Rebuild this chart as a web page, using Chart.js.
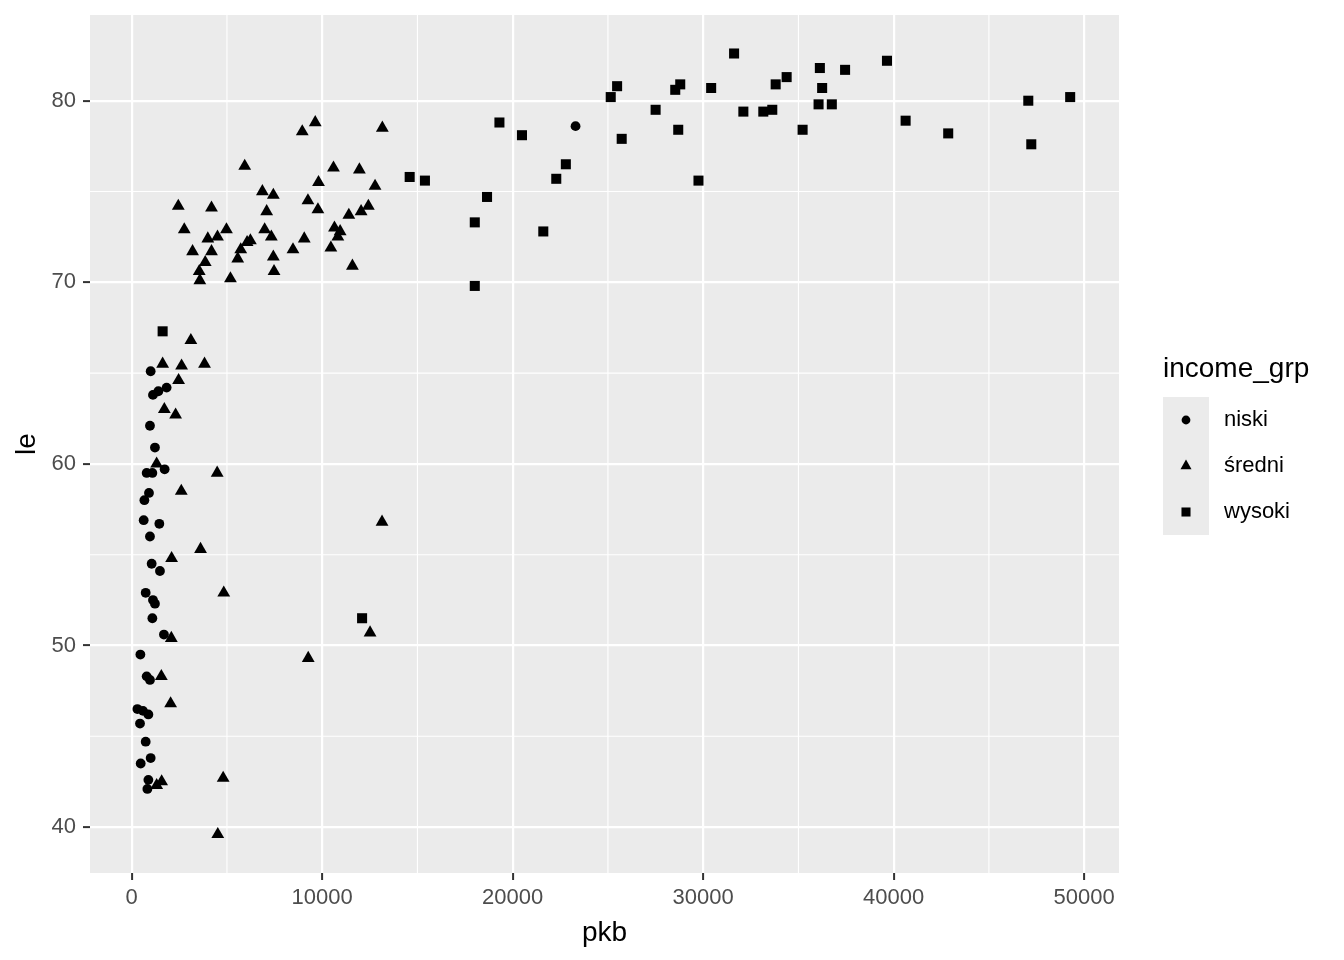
<!DOCTYPE html>
<html>
<head>
<meta charset="utf-8">
<script src="https://cdn.jsdelivr.net/npm/chart.js@4"></script>
<style>
  body { margin: 0; background: #fff; }
  #wrap { width: 1344px; height: 960px; }
</style>
</head>
<body>
<div id="wrap"><canvas id="myChart" width="1344" height="960"></canvas></div>
<script>
// values
const groups = ['niski', 'średni', 'wysoki']

const niskiPkb = [995, 1115, 1398, 1832, 958, 1220, 1728, 785, 1084, 906, 665, 628, 1450, 958, 1047, 1482, 733, 1115, 1220, 1084, 1691, 455, 785, 958, 298, 592, 874, 435, 733, 995, 471, 874, 822, 23300]
const niskiLe = [65.1, 63.8, 64.0, 64.2, 62.1, 60.9, 59.7, 59.5, 59.5, 58.4, 58.0, 56.9, 56.7, 56.0, 54.5, 54.1, 52.9, 52.5, 52.3, 51.5, 50.6, 49.5, 48.3, 48.1, 46.5, 46.4, 46.2, 45.7, 44.7, 43.8, 43.5, 42.6, 42.1, 78.6]

const sredniPkb = [3105, 1623, 2618, 3822, 2461, 1712, 2304, 1309, 4487, 2602, 3613, 2094, 4832, 2079, 1555, 2042, 4801, 1571, 1309, 4518, 13141, 12513, 9267,
  9634, 8953, 13157, 5932, 10592, 11953, 9806, 12775, 6859, 7435, 2445, 4188, 9251, 9775, 7084, 12424, 12042, 11398, 2759, 4974, 4503, 3995, 6979, 7330, 6230, 6058, 10644, 10942, 10822, 9058, 4188, 3194, 5723, 8466, 10455, 5565, 7435, 3859, 3545, 7471, 11586, 3576, 5183]
const sredniLe = [66.8, 65.5, 65.4, 65.5, 64.6, 63.0, 62.7, 60.0, 59.5, 58.5, 55.3, 54.8, 52.9, 50.4, 48.3, 46.8, 42.7, 42.5, 42.3, 39.6, 56.8, 50.7, 49.3,
  78.8, 78.3, 78.5, 76.4, 76.3, 76.2, 75.5, 75.3, 75.0, 74.8, 74.2, 74.1, 74.5, 74.0, 73.9, 74.2, 73.9, 73.7, 72.9, 72.9, 72.5, 72.4, 72.9, 72.5, 72.3, 72.2, 73.0, 72.8, 72.5, 72.4, 71.7, 71.7, 71.8, 71.8, 71.9, 71.3, 71.4, 71.1, 70.6, 70.6, 70.9, 70.1, 70.2]

const wysokiPkb = [31623, 25482, 25147, 28796, 28534, 30419, 27503, 32110, 19304, 20487, 25723, 28691, 22791, 22288, 29754, 14592, 15393, 18654, 18010, 21607, 18010, 1623, 12094, 39649, 36126, 37450, 34382, 33806, 36246, 36058, 36754, 33157, 33628, 35220, 40628, 42864, 47068, 49267, 47225]
const wysokiLe = [82.6, 80.8, 80.2, 80.9, 80.6, 80.7, 79.5, 79.4, 78.8, 78.1, 77.9, 78.4, 76.5, 75.7, 75.6, 75.8, 75.6, 74.7, 73.3, 72.8, 69.8, 67.3, 51.5, 82.2, 81.8, 81.7, 81.3, 80.9, 80.7, 79.8, 79.8, 79.4, 79.5, 78.4, 78.9, 78.2, 80.0, 80.2, 77.6]

const xTicks = [0, 10000, 20000, 30000, 40000, 50000]
const yTicks = [40, 50, 60, 70, 80]

const FONT = "'Liberation Sans', Arial, sans-serif"
const PANEL = '#EBEBEB'

function toPoints(xs, ys) {
    return xs.map((x, i) => ({ x: x, y: ys[i] }))
}

// draw one marker by hand (used for the legend keys)
function marker(ctx, style, x, y, r) {
    ctx.beginPath()
    if (style === 'circle') {
        ctx.arc(x, y, r, 0, Math.PI * 2)
    } else if (style === 'triangle') {
        ctx.moveTo(x, y - r)
        ctx.lineTo(x + r * 0.866, y + r * 0.5)
        ctx.lineTo(x - r * 0.866, y + r * 0.5)
        ctx.closePath()
    } else {
        const s = r * Math.SQRT1_2
        ctx.rect(x - s, y - s, 2 * s, 2 * s)
    }
    ctx.fill()
}

// gray panel + minor grid lines, before the scales draw the major ones
const panelPlugin = {
    id: 'panel',
    beforeDraw(chart) {
        const { ctx, chartArea: a, scales } = chart
        ctx.save()
        ctx.fillStyle = PANEL
        ctx.fillRect(a.left, a.top, a.right - a.left, a.bottom - a.top)
        ctx.strokeStyle = '#fff'
        ctx.lineWidth = 1.1
        for (let v = 5000; v < 52000; v += 10000) {
            const px = scales.x.getPixelForValue(v)
            ctx.beginPath(); ctx.moveTo(px, a.top); ctx.lineTo(px, a.bottom); ctx.stroke()
        }
        for (let v = 45; v < 85; v += 10) {
            const py = scales.y.getPixelForValue(v)
            ctx.beginPath(); ctx.moveTo(a.left, py); ctx.lineTo(a.right, py); ctx.stroke()
        }
        ctx.restore()
    }
}

const styles = ['circle', 'triangle', 'rect']

const legendPlugin = {
    id: 'ggLegend',
    afterDraw(chart) {
        const ctx = chart.ctx
        ctx.save()
        ctx.fillStyle = '#000'
        ctx.font = '28px ' + FONT
        ctx.textBaseline = 'alphabetic'
        ctx.textAlign = 'left'
        ctx.fillText('income_grp', 1163, 377)
        ctx.fillStyle = PANEL
        ctx.fillRect(1163, 397, 46, 138)
        const sizes = [4.4, 6.4, 6.4]
        groups.forEach((g, i) => {
            const cy = 420 + i * 46
            ctx.fillStyle = '#000'
            marker(ctx, styles[i], 1186, cy, sizes[i])
            ctx.fillStyle = '#000'
            ctx.font = '22px ' + FONT
            ctx.textBaseline = 'middle'
            ctx.fillText(g, 1224, cy)
        })
        ctx.restore()
    }
}

const config = {
    type: 'scatter',
    data: {
        datasets: [
            { label: groups[0], data: toPoints(niskiPkb, niskiLe), pointStyle: 'circle', pointRadius: 4.9 },
            { label: groups[1], data: toPoints(sredniPkb, sredniLe), pointStyle: 'triangle', pointRadius: 7.4 },
            { label: groups[2], data: toPoints(wysokiPkb, wysokiLe), pointStyle: 'rect', pointRadius: 7.1 }
        ].map(d => Object.assign(d, { backgroundColor: '#000', borderWidth: 0, pointBorderWidth: 0 }))
    },
    options: {
        responsive: false,
        animation: false,
        events: [],
        layout: {
            padding: { left: 0, top: 15, right: 225, bottom: 0 }
        },
        plugins: {
            legend: { display: false },
            tooltip: { enabled: false }
        },
        scales: {
            x: {
                type: 'linear',
                min: -2190,
                max: 51830,
                afterFit(scale) { scale.height = 87; scale.paddingLeft = 0; scale.paddingRight = 0 },
                afterBuildTicks(scale) { scale.ticks = xTicks.map(v => ({ value: v })) },
                border: { display: false },
                grid: { color: '#fff', lineWidth: 2.2, tickColor: '#333333', tickLength: 7, tickWidth: 2 },
                ticks: { color: '#4D4D4D', font: { family: FONT, size: 22 }, padding: 5, maxRotation: 0, callback: v => String(v) },
                // bottom titles are offset by padding.bottom
                title: { display: true, text: 'pkb', color: '#000', font: { family: FONT, size: 28 }, padding: { top: 0, bottom: 9.5 } }
            },
            y: {
                type: 'linear',
                min: 37.47,
                max: 84.72,
                afterFit(scale) { scale.width = 90; scale.paddingTop = 0; scale.paddingBottom = 0 },
                afterBuildTicks(scale) { scale.ticks = yTicks.map(v => ({ value: v })) },
                border: { display: false },
                grid: { color: '#fff', lineWidth: 2.2, tickColor: '#333333', tickLength: 7, tickWidth: 2 },
                ticks: { color: '#4D4D4D', font: { family: FONT, size: 22 }, padding: 7, callback: v => String(v) },
                title: { display: true, text: 'le', color: '#000', font: { family: FONT, size: 28 }, padding: { top: 10, bottom: 0 } }
            }
        }
    },
    plugins: [panelPlugin, legendPlugin]
}

const canvas = document.getElementById('myChart')
let myChart
if (canvas) {
    myChart = new Chart(canvas, config)
}
</script>
</body>
</html>
